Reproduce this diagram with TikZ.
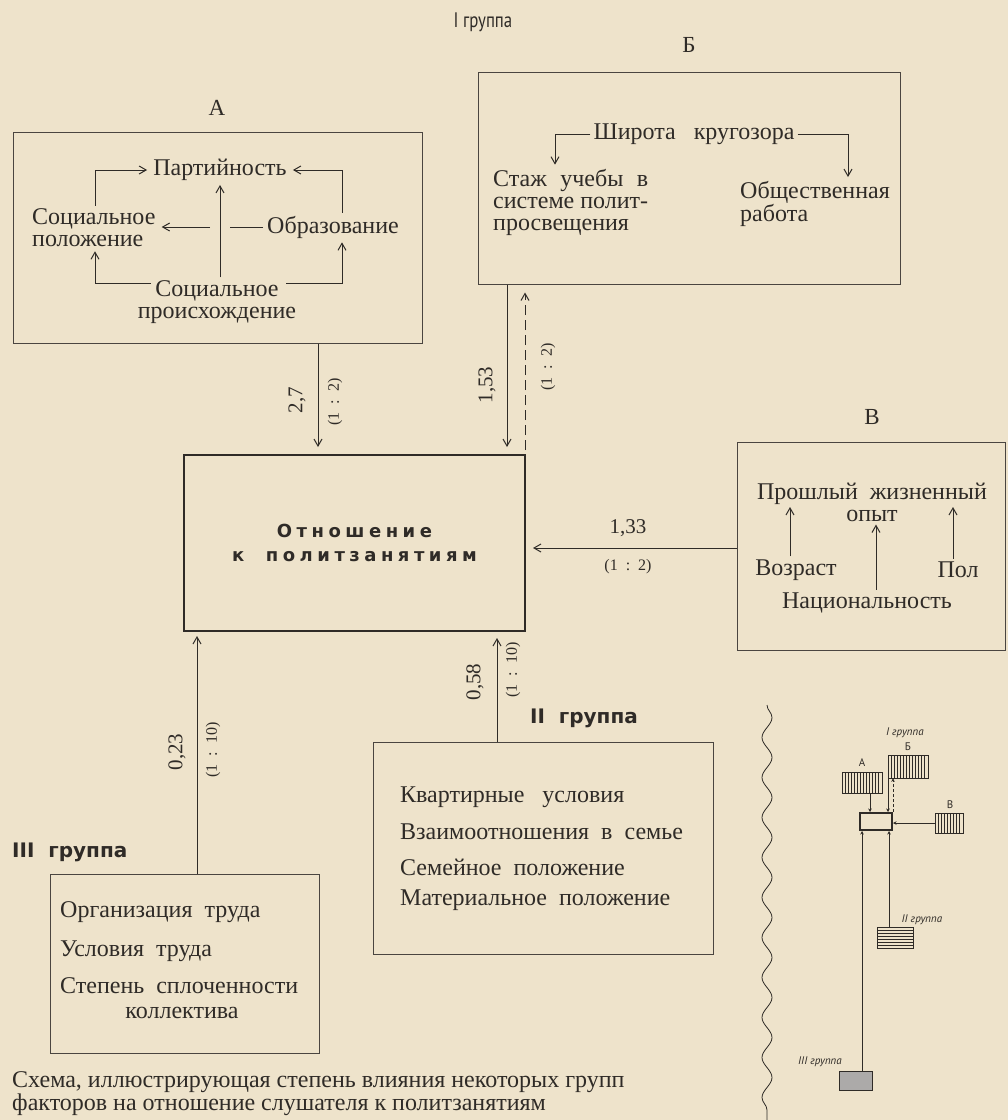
\documentclass[tikz,border=0pt]{standalone}
\usepackage{fontspec}
\usepackage{calc}
\setmainfont{Liberation Serif}
\newfontfamily\grpfont{PT Sans}
\newfontfamily\grpbfont{DejaVu Sans}
\newfontfamily\cenfont[LetterSpace=25]{DejaVu Sans}
\usetikzlibrary{arrows.meta,decorations.pathmorphing,calc}
\definecolor{paper}{HTML}{EEE3CB}
\definecolor{ink}{HTML}{2F2B27}
\definecolor{frame}{HTML}{4A4540}
\newcommand{\rt}[1]{(1\enspace:\enspace#1)}
\tikzset{
  lbl/.style={font=\fontsize{24}{22}\selectfont, text=ink, inner sep=0pt},
  letter/.style={font=\fontsize{23}{23}\selectfont, text=ink, inner sep=0pt},
  num/.style={font=\fontsize{21}{21}\selectfont, text=ink, inner sep=0pt},
  rat/.style={font=\fontsize{16}{16}\selectfont, text=ink, inner sep=0pt},
  grp/.style={font=\grpfont\fontsize{21}{21}\selectfont, text=ink, inner sep=0pt},
  grpb/.style={font=\grpbfont\bfseries\fontsize{20}{20}\selectfont, text=ink, inner sep=0pt},
  cent/.style={font=\cenfont\bfseries\fontsize{18}{18}\selectfont, text=ink, inner sep=0pt},
  frm/.style={draw=frame, line width=1pt, inner sep=0pt},
  arr/.style={draw=ink, line width=1pt, -{Straight Barb[length=7pt,width=8pt,line width=1pt]}},
  ln/.style={draw=ink, line width=1pt},
  mini/.style={font=\grpfont\itshape\fontsize{11}{11}\selectfont, text=ink, inner sep=0pt},
  minil/.style={font=\grpfont\fontsize{11}{11}\selectfont, text=ink, inner sep=0pt},
  sarr/.style={draw=ink, line width=0.7pt, -{Stealth[length=3.5pt,width=3.5pt]}},
}
\begin{document}
\begin{tikzpicture}[x=1pt,y=-1pt]
\fill[paper] (0,0) rectangle (1008,1120);
\useasboundingbox (0,0) rectangle (1008,1120);

% group headings and letters
\node[grp, xscale=0.8] (g1) at (483,22) {I группа};
\node[letter] (lA) at (217,108) {А};
\node[letter] (lB) at (689,45) {Б};
\node[letter] (lV) at (872,417) {В};

% boxes
\node[frm, minimum width=409pt, minimum height=211pt] (bA) at (217.5,237.5) {};
\node[frm, minimum width=422pt, minimum height=212pt] (bB) at (689,178) {};
\node[frm, minimum width=268pt, minimum height=208pt] (bV) at (871,546) {};
\node[frm, minimum width=340pt, minimum height=212pt] (bII) at (543,848) {};
\node[frm, minimum width=269pt, minimum height=179pt] (bIII) at (184.5,963.5) {};
\node[draw=ink, line width=2pt, inner sep=0pt, minimum width=341pt, minimum height=176pt] (cen) at (354.5,543) {};

% box A contents
\node[lbl] (part) at (220,170) {Партийность};
\node[lbl, anchor=west, align=left] (socpos) at (32,228) {Социальное\\положение};
\node[lbl] (obraz) at (333,227) {Образование};
\node[lbl, align=center] (orig) at (217,302) {Социальное\\происхождение};
\coordinate (xL) at (95,0);
\coordinate (xR) at (342,0);
\coordinate (xC) at (220,0);
\coordinate (oL) at (151,283);
\coordinate (oR) at (286,283);
\draw[arr, shorten <=3pt, shorten >=6pt] (socpos.north -| xL) |- (part.west);
\draw[arr, shorten <=3pt, shorten >=6pt] (obraz.north -| xR) |- (part.east);
\draw[arr, shorten <=3pt, shorten >=4pt] (orig.north -| xC) -- (part.south -| xC);
\draw[ln, shorten <=4pt] (obraz.west) -- ($(obraz.west -| xC)+(10,0)$);
\draw[arr, shorten >=6pt] ($(obraz.west -| xC)+(-10,0)$) -- (obraz.west -| socpos.east);
\draw[arr, shorten >=4pt] (oL) -| (socpos.south -| xL);
\draw[arr, shorten >=4pt] (oR) -| (obraz.south -| xR);

% box B contents
\node[lbl] (shir) at (694,134) {Широта\ \ \ кругозора};
\node[lbl, anchor=west, align=left] (stazh) at (493,202) {\makebox[\widthof{системе полит-}][s]{Стаж учебы в}\\системе полит-\\просвещения};
\node[lbl, anchor=west, align=left] (obsh) at (740,204) {Общественная\\работа};
\coordinate (xS) at (555,0);
\coordinate (xO) at (848,0);
\draw[arr, shorten <=3pt, shorten >=4pt] (shir.west) -| (stazh.north -| xS);
\draw[arr, shorten <=3pt, shorten >=4pt] (shir.east) -| (obsh.north -| xO);

% box V contents
\node[lbl, align=center] (prosh) at (872,502) {Прошлый\ \ жизненный\\опыт};
\node[lbl] (vozr) at (796,570) {Возраст};
\node[lbl] (pol) at (958,570) {Пол};
\node[lbl] (nac) at (867,603) {Национальность};
\coordinate (xV) at (790,0);
\coordinate (xP) at (953,0);
\coordinate (xN) at (876,0);
\coordinate (yT) at (0,507);
\draw[arr, shorten <=3pt] (vozr.north -| xV) -- (yT -| xV);
\draw[arr, shorten <=3pt] (pol.north -| xP) -- (yT -| xP);
\draw[arr, shorten <=3pt, shorten >=3pt] (nac.north -| xN) -- (prosh.south -| xN);

% central box text
\node[cent] (ct1) at (354.5,531) {Отношение};
\node[cent] (ct2) at (354.5,557) {к\ \ политзанятиям};

% group II
\node[grpb] (g2) at (584,718) {II\ \ группа};
\node[lbl, anchor=west] (q1) at (400,797) {Квартирные\ \ \ условия};
\node[lbl, anchor=west] (q2) at (400,832) {Взаимоотношения\ \ в\ \ семье};
\node[lbl, anchor=west] (q3) at (400,867) {Семейное\ \ положение};
\node[lbl, anchor=west] (q4) at (400,900) {Материальное\ \ положение};

% group III
\node[grpb, anchor=west] (g3) at (12,852) {III\ \ группа};
\node[lbl, anchor=west] (t1) at (60,912) {Организация\ \ труда};
\node[lbl, anchor=west] (t2) at (60,951) {Условия\ \ труда};
\node[lbl, anchor=west] (t3) at (60,986) {Степень\ \ сплоченности};
\node[lbl] (t4) at (182,1013) {коллектива};

% connectors between groups
\coordinate (x27) at (318,0);
\coordinate (x153) at (507,0);
\coordinate (xd) at (525,0);
\coordinate (y133) at (0,548);
\coordinate (x023) at (197,0);
\coordinate (x058) at (497,0);
\draw[arr, shorten >=7pt] (bA.south -| x27) -- (cen.north -| x27);
\draw[arr, shorten >=7pt] (bB.south -| x153) -- (cen.north -| x153);
\draw[arr, dash pattern=on 10pt off 5pt, shorten >=8pt, shorten <=4pt] (cen.north -| xd) -- (bB.south -| xd);
\draw[arr, shorten >=7pt] (bV.west |- y133) -- (cen.east |- y133);
\draw[arr, shorten >=4pt] (bIII.north -| x023) -- (cen.south -| x023);
\draw[arr, shorten >=6pt] (bII.north -| x058) -- (cen.south -| x058);

% labels of connectors
\node[num, rotate=90] (n27) at (297,400) {2,7};
\node[rat, rotate=90] (r27) at (335,402) {\rt{2}};
\node[num, rotate=90] (n153) at (487,385) {1,53};
\node[rat, rotate=90] (r153) at (548,367) {\rt{2}};
\node[num] (n133) at (628,528) {1,33};
\node[rat] (r133) at (628,567) {\rt{2}};
\node[num, rotate=90] (n023) at (177,752) {0,23};
\node[rat, rotate=90] (r023) at (213,750) {\rt{10}};
\node[num, rotate=90] (n058) at (475,682) {0,58};
\node[rat, rotate=90] (r058) at (513,670) {\rt{10}};

% caption
\node[lbl, anchor=west, align=left, font=\fontsize{24}{21}\selectfont] (cap) at (12,1094) {Схема, иллюстрирующая степень влияния некоторых групп\\факторов на отношение слушателя к политзанятиям};

% wavy separator
\draw[ink, line width=0.8pt, decorate, decoration={snake, amplitude=5pt, segment length=40pt}] (767,705) -- (767,1120);

% inset scheme
\node[mini] (mI) at (905,733) {I группа};
\node[minil] (mB) at (908,747) {Б};
\node[minil] (mA) at (862,763) {А};
\node[minil] (mV) at (950,805) {В};
\node[mini] (mII) at (922,920) {II группа};
\node[mini] (mIII) at (820,1062) {III группа};
\node[draw=ink, line width=0.7pt, inner sep=0pt, minimum width=40pt, minimum height=21pt] (sA) at (862,782.5) {};
\node[draw=ink, line width=0.7pt, inner sep=0pt, minimum width=40pt, minimum height=23pt] (sB) at (908,766.5) {};
\node[draw=ink, line width=0.7pt, inner sep=0pt, minimum width=28pt, minimum height=20pt] (sV) at (949,823) {};
\node[draw=ink, line width=0.7pt, inner sep=0pt, minimum width=36pt, minimum height=21pt] (sII) at (895,937.5) {};
\node[draw=ink, line width=0.7pt, fill=ink!40, inner sep=0pt, minimum width=33pt, minimum height=19pt] (sIII) at (855.5,1080.5) {};
\node[draw=ink, line width=2pt, fill=paper, inner sep=0pt, minimum width=32pt, minimum height=17pt] (sC) at (876,821.5) {};
\foreach \x in {845,848,...,880} \draw[ink, line width=0.5pt] (\x,772) -- (\x,793);
\foreach \x in {891,894,...,926} \draw[ink, line width=0.5pt] (\x,755) -- (\x,778);
\foreach \x in {938,941,...,961} \draw[ink, line width=0.5pt] (\x,813) -- (\x,833);
\foreach \y in {930,933,...,946} \draw[ink, line width=0.5pt] (877,\y) -- (913,\y);
\coordinate (sxA) at (870,0);
\coordinate (sxB) at (888,0);
\coordinate (sxD) at (893,0);
\coordinate (sxIII) at (862,0);
\coordinate (sxII) at (889,0);
\coordinate (syV) at (0,823);
\draw[sarr] (sA.south -| sxA) -- (sC.north -| sxA);
\draw[sarr] (sB.south -| sxB) -- (sC.north -| sxB);
\draw[sarr, densely dashed] (sC.north -| sxD) -- (sB.south -| sxD);
\draw[sarr] (sV.west |- syV) -- (sC.east |- syV);
\draw[sarr] (sIII.north -| sxIII) -- (sC.south -| sxIII);
\draw[sarr] (sII.north -| sxII) -- (sC.south -| sxII);
\end{tikzpicture}
\end{document}
